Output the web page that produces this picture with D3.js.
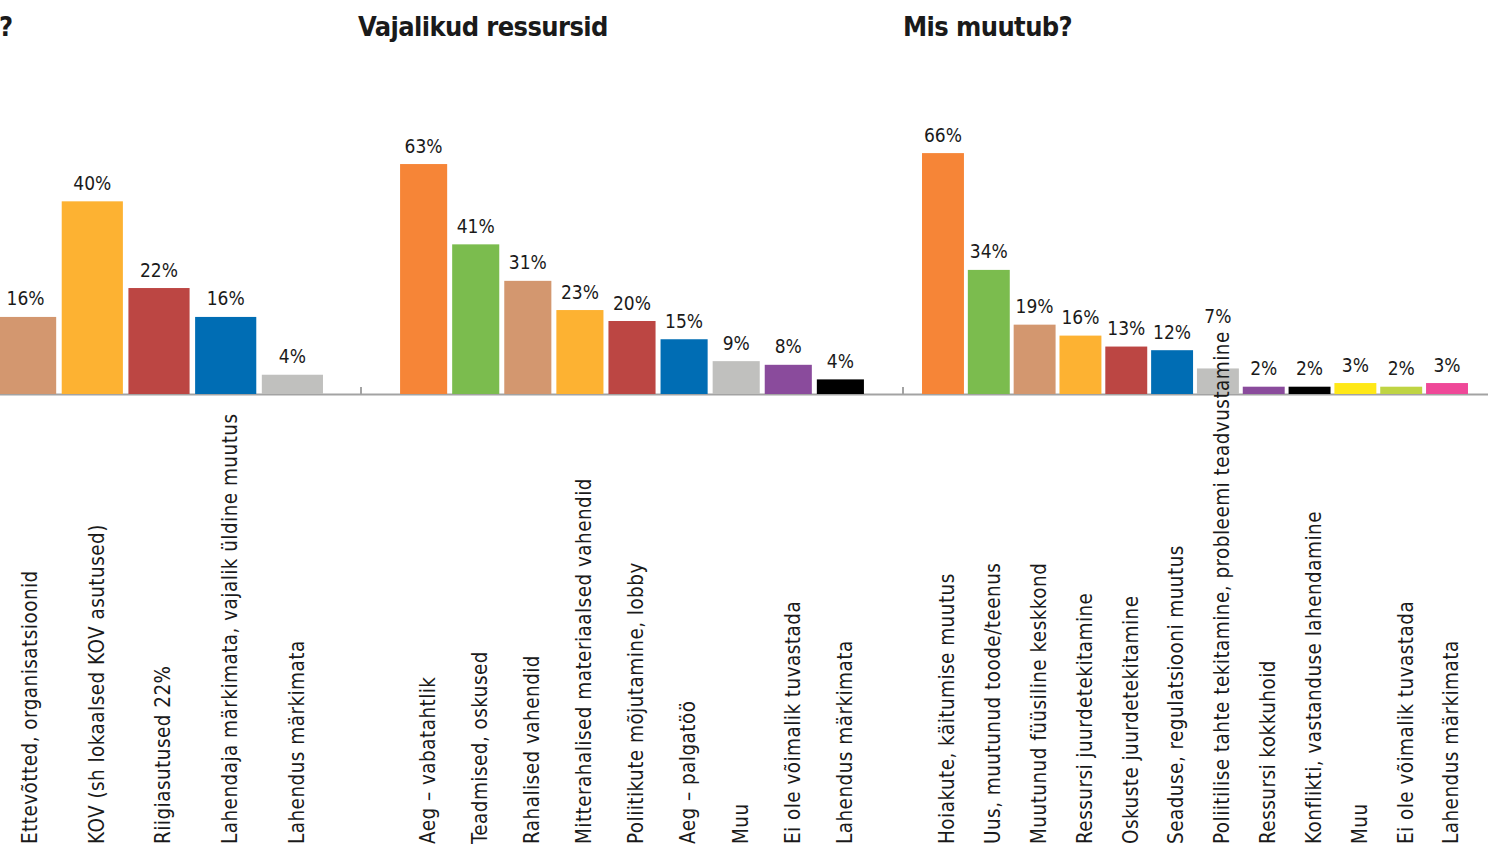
<!DOCTYPE html>
<html>
<head>
<meta charset="utf-8">
<script src="https://d3js.org/d3.v7.min.js"></script>
<style>
  body { margin: 0; background: #fff; }
  svg text { font-family: "DejaVu Sans Condensed", "Liberation Sans Narrow", sans-serif; fill: #1a1a1a; }
</style>
</head>
<body>
<script>
// left chart (its title is cut off at the page edge)
const leftTitle = "?";
const leftCategories = [
  "Ettevõtted, organisatsioonid",
  "KOV (sh lokaalsed KOV asutused)",
  "Riigiasutused 22%",
  "Lahendaja märkimata, vajalik üldine muutus",
  "Lahendus märkimata"
];
const leftValues = [16, 40, 22, 16, 4];

// middle chart
const midTitle = "Vajalikud ressursid";
const midCategories = [
  "Aeg – vabatahtlik",
  "Teadmised, oskused",
  "Rahalised vahendid",
  "Mitterahalised materiaalsed vahendid",
  "Poliitikute mõjutamine, lobby",
  "Aeg – palgatöö",
  "Muu",
  "Ei ole võimalik tuvastada",
  "Lahendus märkimata"
];
const midValues = [63, 41, 31, 23, 20, 15, 9, 8, 4];

// right chart
const rightTitle = "Mis muutub?";
const rightCategories = [
  "Hoiakute, käitumise muutus",
  "Uus, muutunud toode/teenus",
  "Muutunud füüsiline keskkond",
  "Ressursi juurdetekitamine",
  "Oskuste juurdetekitamine",
  "Seaduse, regulatsiooni muutus",
  "Poliitilise tahte tekitamine, probleemi teadvustamine",
  "Ressursi kokkuhoid",
  "Konflikti, vastanduse lahendamine",
  "Muu",
  "Ei ole võimalik tuvastada",
  "Lahendus märkimata"
];
const rightValues = [66, 34, 19, 16, 13, 12, 7, 2, 2, 3, 2, 3];

const palette = ["#f68537", "#7bbc4e", "#d3976f", "#fdb232", "#bc4643", "#006db4",
                 "#c0c0be", "#8a4b9c", "#000000", "#ffe817", "#bfd443", "#ef4898"];

const width = 1488, height = 846;
const baseY = 394, labelBottom = 844;

const svg = d3.select("body").append("svg")
    .attr("width", width)
    .attr("height", height);

const panels = [
  {title: leftTitle, cats: leftCategories, vals: leftValues, range: [-43, 361],
   inner: 0.083, outer: 0.57, yMax: 60, top: 105, shift: 2, titleX: -1},
  {title: midTitle, cats: midCategories, vals: midValues, range: [361, 903],
   inner: 0.096, outer: 0.75, yMax: 80, top: 102, shift: 0, titleX: 358},
  {title: rightTitle, cats: rightCategories, vals: rightValues, range: [903, 1487],
   inner: 0.085, outer: 0.415, yMax: 80, top: 102, shift: 0, titleX: 903}
];

// axis line across the whole page
svg.append("line")
    .attr("x1", 0).attr("x2", width)
    .attr("y1", baseY + 0.5).attr("y2", baseY + 0.5)
    .style("stroke", "#a3a3a3")
    .style("stroke-width", 2);

panels.forEach(function(p) {
  let x = d3.scaleBand()
      .domain(p.cats)
      .range(p.range)
      .paddingInner(p.inner)
      .paddingOuter(p.outer);

  let y = d3.scaleLinear()
      .domain([0, p.yMax])
      .range([baseY, p.top]);

  let g = svg.append("g");

  // tick at the panel start
  g.append("line")
      .attr("x1", p.range[0]).attr("x2", p.range[0])
      .attr("y1", baseY - 7).attr("y2", baseY + 1)
      .style("stroke", "#a3a3a3")
      .style("stroke-width", 2);

  let data = p.cats.map(function(c, i) { return {cat: c, val: p.vals[i], i: i}; });

  g.selectAll("rect")
    .data(data)
    .join("rect")
      .attr("x", d => x(d.cat))
      .attr("y", d => y(d.val))
      .attr("width", x.bandwidth())
      .attr("height", d => baseY - y(d.val))
      .style("fill", d => palette[d.i + p.shift]);

  // rotated category labels
  let cl = g.selectAll("text.cat")
    .data(data)
    .join("text")
      .attr("class", "cat")
      .attr("transform", d => "translate(" + (x(d.cat) + x.bandwidth() / 2 + 4) + "," + labelBottom + ") rotate(-90)")
      .attr("dy", "0.36em")
      .style("font-size", "20.5px")
      .style("letter-spacing", "0.45px")
      .text(d => d.cat);

  cl.each(function(d) { d.labelTop = labelBottom - this.getComputedTextLength(); });

  // value labels, lifted above a category label that reaches into the bar area
  g.selectAll("text.val")
    .data(data)
    .join("text")
      .attr("class", "val")
      .attr("x", d => x(d.cat) + x.bandwidth() / 2)
      .attr("y", d => Math.min(y(d.val) - 11.5, d.labelTop - 8))
      .attr("text-anchor", "middle")
      .style("font-size", "19px")
      .text(d => d.val + "%");

  svg.append("text")
      .attr("x", p.titleX)
      .attr("y", 36)
      .style("font-size", "27px")
      .style("font-weight", "bold")
      .style("letter-spacing", "-0.6px")
      .text(p.title);
});
</script>
</body>
</html>
